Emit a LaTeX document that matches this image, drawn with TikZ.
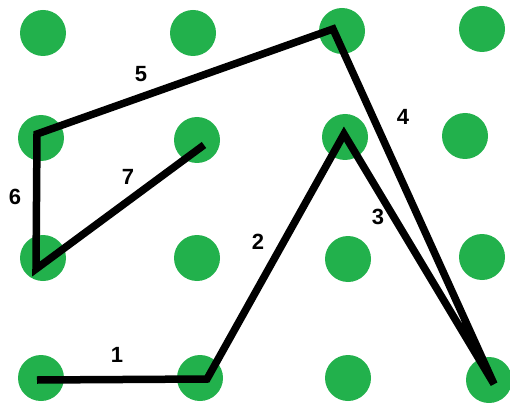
\documentclass[tikz,border=0pt]{standalone}
\usepackage{fontspec}
\setmainfont{Liberation Sans}
\definecolor{dotgreen}{RGB}{34,177,76}
\begin{document}
\begin{tikzpicture}[x=1pt,y=-1pt,
  dot/.style={circle,fill=dotgreen,minimum size=46pt,inner sep=0pt},
  seg/.style={line width=7.5pt,black,line join=miter},
  lbl/.style={font=\bfseries\fontsize{22}{22}\selectfont,inner sep=0pt}]
\useasboundingbox (0,0) rectangle (510,403);
% dots
\node[dot] (a1) at (43,33) {};
\node[dot] (a2) at (193,33) {};
\node[dot] (a3) at (342,31) {};
\node[dot] (a4) at (482,29) {};
\node[dot] (b1) at (41,138) {};
\node[dot] (b2) at (197,140) {};
\node[dot] (b3) at (345,137) {};
\node[dot] (b4) at (465,136) {};
\node[dot] (c1) at (43,258) {};
\node[dot] (c2) at (197,258) {};
\node[dot] (c3) at (348,259) {};
\node[dot] (c4) at (482,257) {};
\node[dot] (e1) at (41,378) {};
\node[dot] (e2) at (200,378) {};
\node[dot] (e3) at (348,378) {};
\node[dot] (e4) at (489,380) {};
% path vertices
\coordinate (p0) at (37,380);
\coordinate (p1) at (207,379);
\coordinate (p2) at (344,134);
\coordinate (p3) at (494,384);
\coordinate (p4) at (333,29);
\coordinate (p5) at (37,134);
\coordinate (p6) at (36,269);
\coordinate (p7) at (204,145);
\draw[seg] (p0) -- (p1) -- (p2) -- (p3) -- (p4) -- (p5) -- (p6) -- (p7);
% labels
\node[lbl] (l1) at (117,355) {1};
\node[lbl] (l2) at (258,242) {2};
\node[lbl] (l3) at (378,217) {3};
\node[lbl] (l4) at (403,117) {4};
\node[lbl] (l5) at (141,74) {5};
\node[lbl] (l6) at (15,197) {6};
\node[lbl] (l7) at (128,177) {7};
\end{tikzpicture}
\end{document}
